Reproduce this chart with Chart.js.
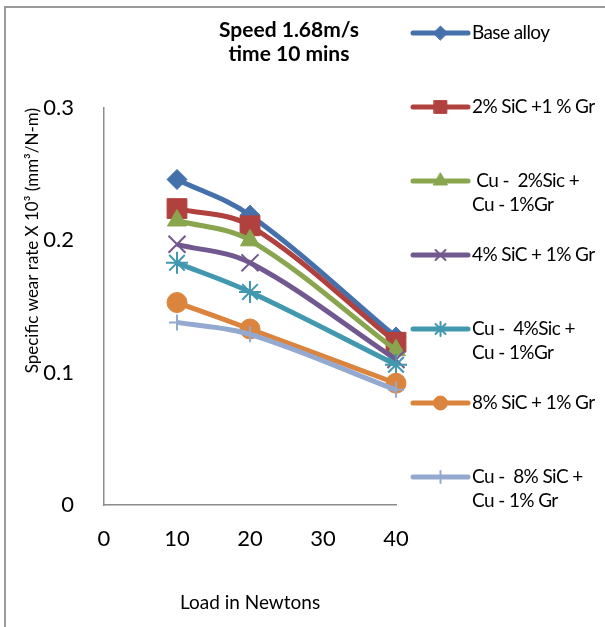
<!DOCTYPE html>
<html>
<head>
<meta charset="utf-8">
<script src="https://cdn.jsdelivr.net/npm/chart.js@4.4.1/dist/chart.umd.min.js"></script>
<style>
  html, body { margin: 0; padding: 0; background: #fff; }
  #wrap { position: relative; width: 605px; height: 627px; overflow: hidden; }
  #frame { position: absolute; left: 4px; top: 6px; width: 605px; height: 630px;
           border-left: 2px solid #9a9a9a; border-top: 2px solid #9a9a9a; box-sizing: border-box; pointer-events: none; }
  canvas { position: absolute; left: 0; top: 0; }
</style>
</head>
<body>
<div id="wrap">
  <canvas id="c" width="605" height="627"></canvas>
  <div id="frame"></div>
</div>
<script>
// ---- data ----
const loads = [10, 20, 40];
const seriesLabels = [
  'Base alloy',
  '2% SiC +1 % Gr',
  ' Cu -  2%Sic +\nCu - 1%Gr',
  '4% SiC + 1% Gr',
  'Cu -  4%Sic +\nCu - 1%Gr',
  '8% SiC + 1% Gr',
  'Cu -  8% SiC +\nCu - 1% Gr'
];
const baseAlloy   = [0.246, 0.219, 0.127];
const sic2gr1     = [0.224, 0.211, 0.123];
const cuSic2gr1   = [0.215, 0.200, 0.117];
const sic4gr1     = [0.197, 0.183, 0.110];
const cuSic4gr1   = [0.183, 0.161, 0.106];
const sic8gr1     = [0.153, 0.133, 0.092];
const cuSic8gr1   = [0.138, 0.129, 0.087];
const xTicks = [0, 10, 20, 30, 40];
const yTickLabels = ['0', '0.1', '0.2', '0.3'];
const chartTitle = ['Speed 1.68m/s', 'time 10 mins'];
const xTitle = 'Load in Newtons';
const yTitle = 'Specific wear rate X 10\u00B3 (mm\u00B3/N-m)';

// ---- styles ----
const allValues = [baseAlloy, sic2gr1, cuSic2gr1, sic4gr1, cuSic4gr1, sic8gr1, cuSic8gr1];
const colors = ['#4470AB', '#B0413E', '#89A54E', '#71588F', '#4198AF', '#DB843D', '#93A9CF'];
const styles = ['rectRot', 'rect', 'triangle', 'crossRot', 'star', 'circle', 'cross'];
const radii  = [10, 14, 11, 12, 11, 10, 8];
const legRadii = [7, 9, 8, 7, 7, 7, 6];
const fam = "Lato, 'Liberation Sans', sans-serif";

const datasets = allValues.map((vals, i) => ({
  label: seriesLabels[i],
  data: loads.map((x, j) => ({ x: x, y: vals[j] })),
  borderColor: colors[i],
  backgroundColor: colors[i],
  pointBackgroundColor: colors[i],
  pointBorderColor: colors[i],
  pointBorderWidth: (styles[i] === 'crossRot' || styles[i] === 'star' || styles[i] === 'cross') ? 2 : 1,
  pointStyle: styles[i],
  pointRadius: radii[i],
  borderWidth: 5,
  tension: 0.35,
  fill: false,
  clip: false,
  order: allValues.length - i
}));

const overlay = {
  id: 'overlay',
  afterDraw(chart) {
    const ctx = chart.ctx;
    ctx.save();
    // title
    ctx.fillStyle = '#000';
    ctx.textAlign = 'center';
    ctx.textBaseline = 'middle';
    ctx.font = "bold 21px " + fam;
    chartTitle.forEach((t, k) => ctx.fillText(t, 289, 30 + k * 24));
    // legend
    const x0 = 413, x1 = 468, top = 33, step = 74;
    chart.data.datasets.forEach((ds, i) => {
      const y = top + i * step;
      ctx.strokeStyle = ds.borderColor;
      ctx.lineWidth = 5;
      ctx.lineCap = 'round';
      ctx.beginPath();
      ctx.moveTo(x0, y);
      ctx.lineTo(x1, y);
      ctx.stroke();
      ctx.fillStyle = ds.borderColor;
      ctx.strokeStyle = ds.borderColor;
      ctx.lineWidth = ds.pointBorderWidth;
      Chart.helpers.drawPoint(ctx, { pointStyle: ds.pointStyle, radius: legRadii[i], borderWidth: ds.pointBorderWidth, rotation: 0 }, (x0 + x1) / 2, y);
      ctx.fillStyle = '#000';
      ctx.textAlign = 'left';
      ctx.textBaseline = 'middle';
      ctx.font = '19px ' + fam;
      ctx.letterSpacing = '-0.6px';
      ds.label.split('\n').forEach((line, k) => ctx.fillText(line, 472, y + k * 24));
      ctx.letterSpacing = '0px';
    });
    ctx.restore();
  }
};

new Chart(document.getElementById('c'), {
  type: 'line',
  data: { datasets: datasets },
  plugins: [overlay],
  options: {
    responsive: false,
    animation: false,
    events: [],
    layout: { padding: { left: 0, top: 108, right: 209, bottom: 0 } },
    plugins: { legend: { display: false }, title: { display: false }, tooltip: { enabled: false } },
    scales: {
      x: {
        type: 'linear',
        min: 0, max: 40,
        afterFit(s) { s.height = 122; },
        afterBuildTicks(s) { s.ticks = xTicks.map(v => ({ value: v })); },
        grid: { display: false, drawTicks: false },
        border: { display: true, color: '#8c8c8c', width: 1.5 },
        ticks: { color: '#000', padding: 21, font: { size: 22, family: fam }, maxRotation: 0 },
        title: { display: true, text: xTitle, color: '#000', font: { size: 19, family: fam }, padding: { top: 0, bottom: 13 } }
      },
      y: {
        type: 'linear',
        min: 0, max: 0.3,
        afterFit(s) { s.width = 104; },
        afterBuildTicks(s) { s.ticks = yTickLabels.map((t, k) => ({ value: k * 0.1 })); },
        grid: { display: false, drawTicks: false },
        border: { display: true, color: '#8c8c8c', width: 1.5 },
        ticks: { color: '#000', padding: 30, font: { size: 22, family: fam },
                 callback: (v, idx) => yTickLabels[idx] },
        title: { display: true, text: yTitle, align: 'end', color: '#000', font: { size: 17, family: fam }, padding: { top: 22, bottom: 0 } }
      }
    }
  }
});
</script>
</body>
</html>
